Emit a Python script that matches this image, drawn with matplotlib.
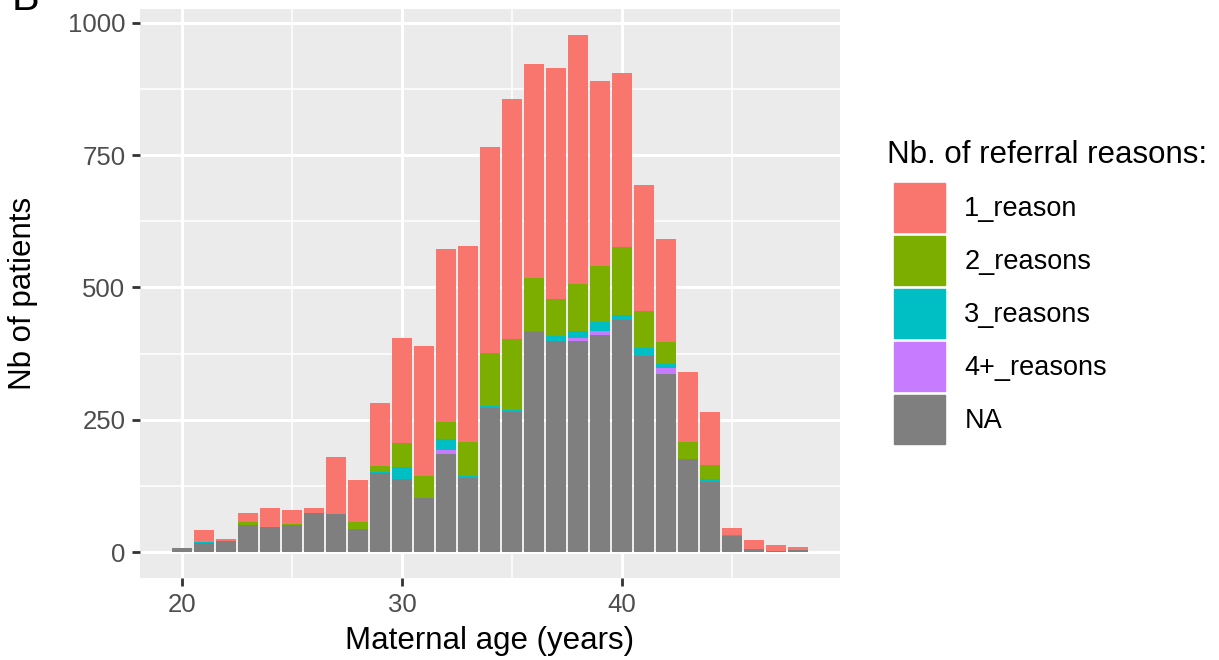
import matplotlib.pyplot as plt
import numpy as np

plt.rcParams["font.family"] = ["Liberation Sans", "DejaVu Sans"]

# maternal age (years) and counts per referral-reason group
ages = list(range(20, 49))
na_counts = [7, 18, 21, 51, 47, 51, 74, 72, 44, 150, 138, 102, 186, 140, 273,
             265, 415, 398, 398, 411, 439, 371, 337, 176, 132, 30, 6, 2, 4]
four_plus = [0, 0, 0, 0, 0, 0, 0, 0, 0, 0, 0, 0, 7, 0, 0,
             0, 0, 0, 7, 7, 0, 0, 10, 0, 0, 0, 0, 0, 0]
three = [0, 1, 0, 0, 0, 0, 0, 0, 0, 2, 23, 0, 21, 4, 3,
         4, 2, 11, 13, 16, 8, 15, 9, 0, 6, 0, 0, 0, 0]
two = [0, 0, 0, 6, 0, 2, 0, 0, 13, 11, 45, 42, 32, 64, 101,
       134, 100, 70, 88, 106, 129, 70, 40, 32, 27, 2, 0, 0, 0]
one = [0, 23, 4, 17, 36, 26, 9, 108, 79, 119, 199, 246, 326, 370, 388,
       453, 405, 436, 471, 350, 329, 237, 195, 133, 100, 13, 17, 11, 5]

groups = ["1_reason", "2_reasons", "3_reasons", "4+_reasons", "NA"]
colors = ["#F8766D", "#7CAE00", "#00BFC4", "#C77CFF", "#7F7F7F"]

fig = plt.figure(figsize=(12.19, 6.6), dpi=100)
ax = fig.add_axes([140 / 1219, 82 / 660, 700 / 1219, 569 / 660])
ax.set_facecolor("#EBEBEB")

# stack from the bottom: NA, 4+, 3, 2, 1
stack = [na_counts, four_plus, three, two, one]
stack_colors = colors[::-1]
bottom = np.zeros(len(ages))
for vals, col in zip(stack, stack_colors):
    v = np.array(vals, dtype=float)
    ax.bar(ages, v, width=0.9, bottom=bottom, color=col, linewidth=0, zorder=3)
    bottom += v

ax.set_xlim(18.1, 49.9)
ax.set_ylim(-49, 1026)
ax.set_xticks([20, 30, 40])
ax.set_xticks([25, 35, 45], minor=True)
ax.set_yticks([0, 250, 500, 750, 1000])
ax.set_yticks([125, 375, 625, 875], minor=True)
ax.grid(which="major", color="white", linewidth=2.2, zorder=1)
ax.grid(which="minor", color="white", linewidth=1.1, zorder=1)
ax.tick_params(which="major", length=5.5, width=2, color="#333333",
               labelsize=18.5, labelcolor="#4D4D4D", pad=5)
ax.tick_params(which="minor", length=0)
for s in ax.spines.values():
    s.set_visible(False)

ax.set_xlabel("Maternal age (years)", fontsize=22.5)
ax.set_ylabel("Nb of patients", fontsize=22.5)
ax.xaxis.set_label_coords(0.5, -0.085)
ax.yaxis.set_label_coords(-0.146, 0.5)

# legend (title drawn separately so it sits a bit left of the keys)
fig.text(887 / 1219, 1 - 163 / 660, "Nb. of referral reasons:",
         fontsize=22.5, va="baseline", ha="left")
handles = [plt.Rectangle((0, 0), 1, 1, color=c) for c in colors]
leg = fig.legend(handles, groups, loc="upper left",
                 bbox_to_anchor=(875 / 1219, 1 - 164 / 660),
                 fontsize=19.5, frameon=False, handlelength=1.88,
                 handleheight=2.4, labelspacing=0.15, handletextpad=0.72,
                 borderpad=0.2)

fig.text(12 / 1219, 1 - 10 / 660, "B", fontsize=30, va="baseline", ha="left")

fig.savefig("out.png", dpi=100)
